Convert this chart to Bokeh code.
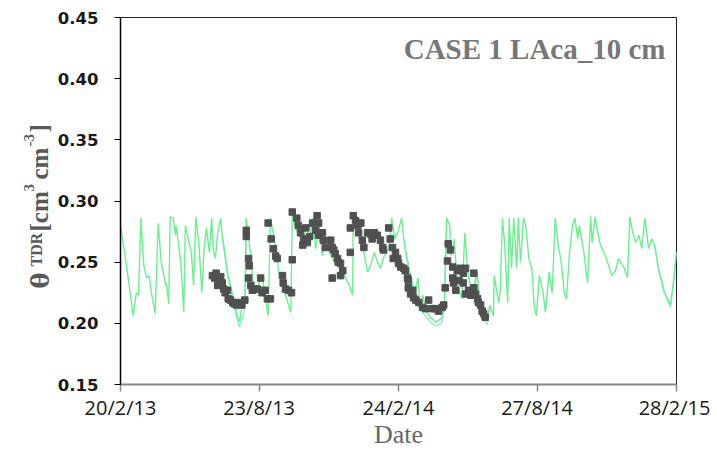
import numpy as np
from bokeh.plotting import figure
from bokeh.layouts import row
from bokeh.models import Range1d, FixedTicker, Label, NumeralTickFormatter
from bokeh.core.properties import value
from bokeh.embed import file_html
from bokeh.resources import INLINE
from datetime import date

# ---------------- data ----------------
START = date(2013, 2, 20)
TICK_LABELS = ["20/2/13", "23/8/13", "24/2/14", "27/8/14", "28/2/15"]
TICK_DATES = [date(2013, 2, 20), date(2013, 8, 23), date(2014, 2, 24),
              date(2014, 8, 27), date(2015, 2, 28)]
Y_TICKS = [0.15, 0.20, 0.25, 0.30, 0.35, 0.40, 0.45]

# simulated theta (days since 20/2/13)
SIM_DAYS = [0, 8, 17, 21, 24, 27, 31, 35, 38, 41, 46, 50, 54, 60, 61, 64, 66, 70, 73, 74,
            80, 84, 86, 90, 94, 97, 100, 104, 108, 111, 114, 118, 121, 123, 126, 129, 133,
            135, 142, 149, 155, 158, 162, 165, 167, 173, 177, 181, 188, 192, 196, 199, 206,
            210, 215, 222, 226, 228, 232, 236, 242, 246, 251, 255, 259, 264, 268, 272, 277,
            284, 291, 297, 304, 308, 309, 315, 319, 324, 328, 332, 337, 341, 345, 350, 356,
            360, 364, 368, 373, 377, 384, 390, 395, 397, 401, 406, 413, 419, 426, 430, 433,
            437, 439, 443, 447, 453, 457, 461, 467, 473, 477, 480, 487, 490, 495, 496, 502,
            504, 507, 510, 514, 516, 519, 522, 526, 528, 531, 535, 538, 542, 546, 549, 552,
            556, 561, 564, 569, 573, 577, 581, 585, 589, 592, 596, 600, 603, 607, 609, 615,
            620, 624, 626, 630, 633, 637, 644, 652, 657, 661, 668, 673, 676, 680, 684, 688,
            692, 696, 701, 705, 709, 714, 722, 730, 734, 738]
SIM_THETA = [0.280, 0.247, 0.206, 0.225, 0.223, 0.286, 0.247, 0.237, 0.239, 0.225, 0.208,
             0.282, 0.250, 0.231, 0.233, 0.216, 0.287, 0.286, 0.272, 0.280, 0.250, 0.209,
             0.280, 0.269, 0.258, 0.231, 0.287, 0.266, 0.225, 0.261, 0.278, 0.258, 0.286,
             0.261, 0.253, 0.274, 0.286, 0.272, 0.242, 0.223, 0.206, 0.201, 0.217, 0.215,
             0.286, 0.255, 0.225, 0.228, 0.239, 0.223, 0.206, 0.286, 0.262, 0.242, 0.233,
             0.217, 0.209, 0.288, 0.280, 0.272, 0.280, 0.266, 0.269, 0.286, 0.261, 0.280,
             0.255, 0.269, 0.258, 0.250, 0.247, 0.239, 0.231, 0.223, 0.288, 0.282, 0.269,
             0.255, 0.242, 0.247, 0.258, 0.250, 0.245, 0.255, 0.261, 0.286, 0.269, 0.274,
             0.286, 0.264, 0.242, 0.225, 0.237, 0.215, 0.223, 0.209, 0.204, 0.201, 0.204,
             0.217, 0.286, 0.280, 0.255, 0.269, 0.233, 0.220, 0.274, 0.242, 0.223, 0.242,
             0.220, 0.206, 0.202, 0.215, 0.206, 0.239, 0.217, 0.225, 0.286, 0.264, 0.217,
             0.286, 0.245, 0.286, 0.245, 0.286, 0.250, 0.286, 0.280, 0.253, 0.245, 0.215,
             0.206, 0.239, 0.225, 0.209, 0.242, 0.225, 0.286, 0.264, 0.250, 0.225, 0.220,
             0.258, 0.280, 0.286, 0.269, 0.280, 0.258, 0.233, 0.288, 0.266, 0.287, 0.276,
             0.264, 0.255, 0.239, 0.243, 0.253, 0.246, 0.237, 0.287, 0.274, 0.266, 0.272,
             0.261, 0.286, 0.261, 0.269, 0.264, 0.245, 0.225, 0.215, 0.233, 0.258]

# second simulated series (differs only in the recession periods)
SIM2_DAYS = [[135, 142, 149, 155, 158, 162, 165, 167],
             [377, 384, 390, 397, 406, 413, 419, 426, 430, 433],
             [461, 467, 473, 477, 480, 487, 490],
             [709, 714, 722, 730, 734, 738]]
SIM2_THETA = [[0.272, 0.240, 0.218, 0.203, 0.197, 0.205, 0.212, 0.286],
              [0.264, 0.240, 0.222, 0.212, 0.205, 0.200, 0.198, 0.200, 0.212, 0.286],
              [0.242, 0.220, 0.240, 0.217, 0.205, 0.199, 0.212],
              [0.264, 0.245, 0.225, 0.213, 0.233, 0.258]]

# observed theta TDR
OBS_DAYS = [122, 125, 127, 130, 133, 135, 129, 137, 139, 142, 143, 146, 149, 151, 154, 157,
            161, 165, 167, 167, 170, 171, 170, 173, 175, 178, 182, 186, 188, 192, 195, 199,
            196, 200, 203, 206, 208, 215, 216, 219, 223, 227, 228, 228, 234, 236, 239, 242,
            243, 246, 248, 251, 255, 259, 261, 263, 263, 268, 269, 272, 279, 281, 283, 285,
            288, 289, 292, 295, 292, 281, 305, 305, 309, 312, 315, 319, 316, 321, 323, 328,
            332, 337, 341, 334, 345, 348, 349, 356, 358, 361, 365, 362, 368, 369, 372, 376,
            378, 381, 382, 382, 388, 385, 389, 392, 396, 401, 405, 409, 414, 418, 422, 427,
            429, 431, 434, 435, 438, 441, 441, 442, 445, 447, 451, 449, 455, 458, 455, 458,
            462, 465, 469, 469, 471, 474, 475, 478, 480, 482, 484]
OBS_THETA = [0.239, 0.237, 0.241, 0.235, 0.238, 0.233, 0.231, 0.228, 0.225, 0.227, 0.220,
             0.219, 0.217, 0.216, 0.215, 0.217, 0.215, 0.219, 0.276, 0.271, 0.253, 0.247,
             0.237, 0.231, 0.227, 0.228, 0.228, 0.237, 0.225, 0.227, 0.220, 0.220, 0.282,
             0.269, 0.261, 0.255, 0.253, 0.239, 0.233, 0.228, 0.227, 0.225, 0.291, 0.252,
             0.286, 0.280, 0.274, 0.264, 0.269, 0.278, 0.266, 0.271, 0.282, 0.276, 0.288,
             0.282, 0.272, 0.274, 0.268, 0.262, 0.268, 0.262, 0.260, 0.257, 0.253, 0.250,
             0.249, 0.243, 0.239, 0.237, 0.258, 0.278, 0.288, 0.284, 0.280, 0.282, 0.274,
             0.268, 0.262, 0.274, 0.273, 0.274, 0.272, 0.269, 0.268, 0.262, 0.260, 0.278,
             0.269, 0.262, 0.258, 0.253, 0.253, 0.249, 0.246, 0.245, 0.243, 0.237, 0.235,
             0.229, 0.227, 0.224, 0.221, 0.219, 0.217, 0.213, 0.212, 0.219, 0.212, 0.212,
             0.210, 0.213, 0.215, 0.229, 0.251, 0.265, 0.260, 0.246, 0.237, 0.233, 0.227,
             0.243, 0.245, 0.235, 0.241, 0.245, 0.233, 0.224, 0.227, 0.223, 0.241, 0.229,
             0.224, 0.220, 0.217, 0.215, 0.210, 0.208, 0.205]

TITLE = "CASE 1 LAca_10 cm"
X_LABEL = "Date"
# y-axis label pieces: theta_TDR [cm^3 cm^-3]
YLAB_TEXT = ["θ", "TDR", "[cm", "3", "cm", "-3", "]"]

# ---------------- layout ----------------
H = 451
LAB_W = 52
MAIN_W = 658
FRAME_TOP = 17
FRAME_BOTTOM = 384

# ---------------- main figure ----------------
tick_days = [(d - START).days for d in TICK_DATES]

p = figure(width=MAIN_W, height=H, output_backend="svg", toolbar_location=None,
           x_range=Range1d(tick_days[0], tick_days[-1]),
           y_range=Range1d(Y_TICKS[0], Y_TICKS[-1]),
           min_border_left=120 - LAB_W, min_border_right=34, min_border_top=FRAME_TOP,
           min_border_bottom=H - FRAME_BOTTOM)
p.background_fill_color = "white"
p.border_fill_color = "white"
p.outline_line_color = "#222222"
p.outline_line_width = 1
p.xgrid.visible = False
p.ygrid.visible = False

p.multi_line(SIM2_DAYS, SIM2_THETA, line_color="#8EEFD0", line_width=1.4)
p.line(SIM_DAYS, SIM_THETA, line_color="#6AF08F", line_width=1.4)
p.scatter(OBS_DAYS, OBS_THETA, marker="square", size=6.5, fill_color="#505050",
          line_color="#505050")

ya = p.yaxis[0]
ya.ticker = FixedTicker(ticks=Y_TICKS)
ya.formatter = NumeralTickFormatter(format="0.00")
ya.major_label_text_font = "DejaVu Sans"
ya.major_label_text_font_style = "bold"
ya.major_label_text_font_size = "16.5px"
ya.major_label_text_color = "#1a1a1a"
ya.axis_line_color = "#000000"
ya.axis_line_width = 1.5
ya.major_tick_line_color = "#000000"
ya.major_tick_out = 6
ya.major_tick_in = 0
ya.minor_tick_line_color = None
ya.major_label_standoff = 16

xa = p.xaxis[0]
xa.ticker = FixedTicker(ticks=tick_days)
xa.major_label_overrides = {d: lab for d, lab in zip(tick_days, TICK_LABELS)}
xa.major_label_text_font = "Open Sans"
xa.major_label_text_font_size = "20px"
xa.major_label_text_color = "#1a1a1a"
xa.axis_line_color = "#888888"
xa.axis_line_width = 2
xa.major_tick_line_color = "#888888"
xa.major_tick_line_width = 1.5
xa.major_tick_out = 7
xa.major_tick_in = 0
xa.minor_tick_line_color = None
xa.major_label_standoff = 2
xa.axis_label = X_LABEL
xa.axis_label_text_font = "Liberation Serif"
xa.axis_label_text_font_style = "normal"
xa.axis_label_text_font_size = "26px"
xa.axis_label_text_color = "#666666"
xa.axis_label_standoff = -4

p.add_layout(Label(x=545, y=336, x_units="screen", y_units="screen", text=TITLE,
                   text_align="right", text_baseline="alphabetic",
                   text_font="Liberation Serif", text_font_style="bold",
                   text_font_size="29px", text_color="#777777"))

# ---------------- y-label panel ----------------
# its frame is aligned with the main frame; y range is set so that data y = page y
lab = figure(width=LAB_W, height=H, output_backend="svg", toolbar_location=None,
             x_range=Range1d(0, LAB_W), y_range=Range1d(FRAME_BOTTOM, FRAME_TOP),
             x_axis_location=None, y_axis_location=None,
             min_border=0, min_border_left=0, min_border_right=0,
             min_border_top=FRAME_TOP, min_border_bottom=H - FRAME_BOTTOM)
lab.outline_line_color = None
lab.xgrid.visible = False
lab.ygrid.visible = False
lab.background_fill_color = "white"
lab.border_fill_color = "white"

# (baseline x, start y, font, font size) for each piece
piece_x = [40, 36, 39, 28, 39, 28, 39]
piece_top = [288, 266, 231, 191, 179, 146, 132]
piece_font = ["DejaVu Serif"] + ["Liberation Serif"] * 6
piece_fs = ["24px", "16px", "25px", "15px", "25px", "15px", "25px"]
for txt, xx, yt, fnt, fs in zip(YLAB_TEXT, piece_x, piece_top, piece_font, piece_fs):
    lab.text(x=[xx], y=[yt], text=[txt], angle=np.pi / 2,
             text_align="left", text_baseline="alphabetic",
             text_font=value(fnt), text_font_style="bold",
             text_font_size=value(fs), text_color="#595959")

layout = row(lab, p, spacing=0)
open("out.html", "w").write(file_html(layout, INLINE))
